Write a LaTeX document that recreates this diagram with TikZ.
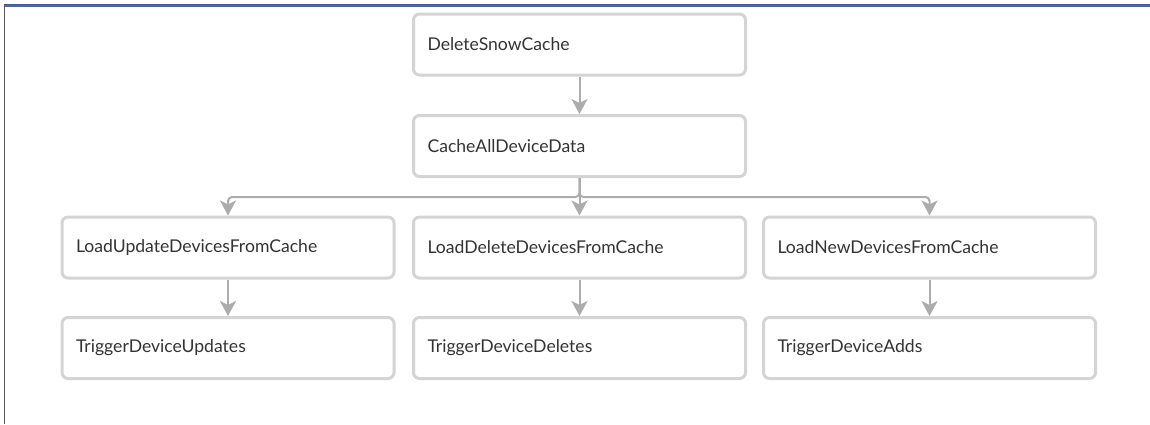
\documentclass[tikz,border=0pt]{standalone}
\usepackage{fontspec}
\setmainfont{Lato}
\usetikzlibrary{arrows.meta}
\definecolor{boxc}{HTML}{D4D4D4}
\definecolor{arrc}{HTML}{ACACAC}
\definecolor{txtc}{HTML}{333333}
\definecolor{framec}{HTML}{5A5A5A}
\definecolor{bluec}{HTML}{3A66D8}
\begin{document}
\begin{tikzpicture}[x=1pt,y=-1pt,
 stepbox/.style={draw=boxc, line width=3pt, rounded corners=6pt, minimum width=332pt, minimum height=61pt, text width=304pt, inner xsep=14pt, align=left, text=txtc, font=\fontsize{17.6}{21}\selectfont},
 conn/.style={draw=arrc, line width=2pt, -{Stealth[length=15pt,width=16pt,inset=4pt]}}]
\useasboundingbox (0,0) rectangle (1150,424);
\fill[white] (0,0) rectangle (1150,424);
\draw[framec, line width=1.2pt] (4,4.2) -- (1150,4.2);
\draw[bluec, line width=1.5pt] (5,5.8) -- (1150,5.8);
\draw[framec, line width=1.3pt] (4.3,3.6) -- (4.3,424);
\node[stepbox] (b1) at (579.5,44.5) {DeleteSnowCache};
\node[stepbox] (b2) at (579.5,146) {CacheAllDeviceData};
\node[stepbox] (l3) at (228,247.5) {LoadUpdateDevicesFromCache};
\node[stepbox] (m3) at (579.5,247.5) {LoadDeleteDevicesFromCache};
\node[stepbox] (r3) at (929.5,247.5) {LoadNewDevicesFromCache};
\node[stepbox] (l4) at (228,348) {TriggerDeviceUpdates};
\node[stepbox] (m4) at (579.5,348) {TriggerDeviceDeletes};
\node[stepbox] (r4) at (929.5,348) {TriggerDeviceAdds};
\draw[conn] (b1) -- (b2);
\draw[conn] (b2) -- (m3);
\draw[conn, rounded corners=4pt] (b2.south) -- ++(0,19) -| (l3.north);
\draw[conn, rounded corners=4pt] (b2.south) -- ++(0,19) -| (r3.north);
\draw[conn] (l3) -- (l4);
\draw[conn] (m3) -- (m4);
\draw[conn] (r3) -- (r4);
\end{tikzpicture}
\end{document}
